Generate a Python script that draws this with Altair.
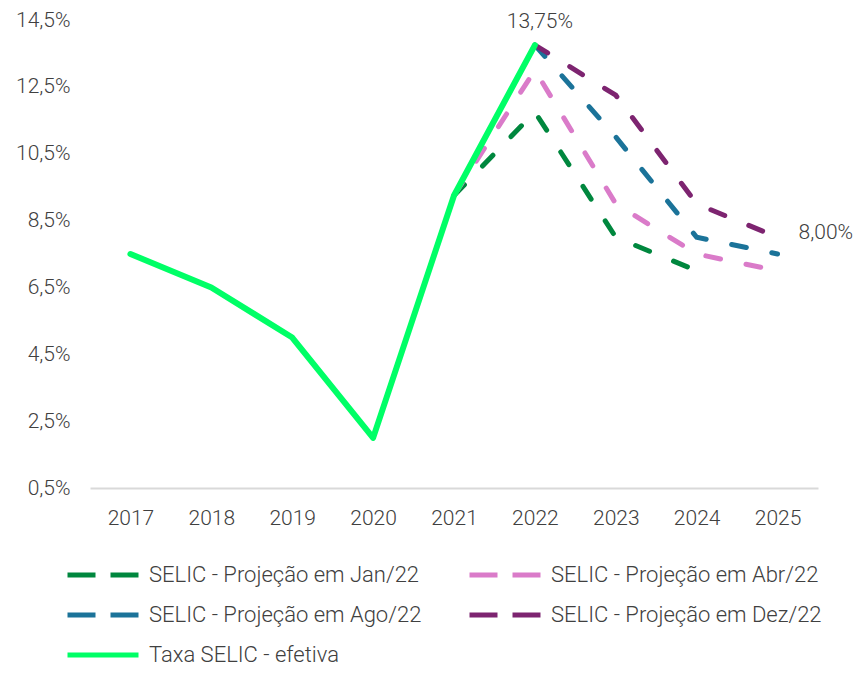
import altair as alt
import pandas as pd

years = ["2017", "2018", "2019", "2020", "2021", "2022", "2023", "2024", "2025"]

S_JAN = "SELIC - Projeção em Jan/22"
S_ABR = "SELIC - Projeção em Abr/22"
S_AGO = "SELIC - Projeção em Ago/22"
S_DEZ = "SELIC - Projeção em Dez/22"
S_EFE = "Taxa SELIC - efetiva"
series_order = [S_JAN, S_ABR, S_AGO, S_DEZ, S_EFE]
series_colors = ["#00873E", "#DA7BC9", "#1B7399", "#7D2470", "#00FF66"]

efetiva_years = ["2017", "2018", "2019", "2020", "2021", "2022"]
efetiva = [7.5, 6.5, 5.0, 2.0, 9.25, 13.75]

jan_years = ["2021", "2022", "2023", "2024"]
jan22 = [9.25, 11.75, 8.0, 7.0]

abr_years = ["2021", "2022", "2023", "2024", "2025"]
abr22 = [9.25, 13.0, 9.0, 7.5, 7.0]

ago_years = ["2022", "2023", "2024", "2025"]
ago22 = [13.75, 11.0, 8.0, 7.5]

dez_years = ["2022", "2023", "2024", "2025"]
dez22 = [13.75, 12.25, 9.0, 8.0]

y_ticks = [0.5, 2.5, 4.5, 6.5, 8.5, 10.5, 12.5, 14.5]

rows = []
for name, ys, vs in [
    (S_JAN, jan_years, jan22),
    (S_ABR, abr_years, abr22),
    (S_AGO, ago_years, ago22),
    (S_DEZ, dez_years, dez22),
    (S_EFE, efetiva_years, efetiva),
]:
    for yr, v in zip(ys, vs):
        rows.append({"serie": name, "ano": yr, "valor": v})
df = pd.DataFrame(rows)

FONT = "Roboto"
TXT = "#404040"

x_enc = alt.X(
    "ano:O",
    scale=alt.Scale(domain=years, type="point", padding=0.5),
    axis=alt.Axis(
        title=None, ticks=False, tickSize=0, domainColor="#D9D9D9", domainWidth=2,
        labelAngle=0, labelFontSize=21, labelColor=TXT, labelFont=FONT,
        labelFontWeight=300, labelPadding=30, labelBaseline="middle", grid=False,
    ),
)
y_enc = alt.Y(
    "valor:Q",
    scale=alt.Scale(domain=[0.5, 14.5], nice=False, zero=False),
    axis=alt.Axis(
        title=None, values=y_ticks, ticks=False, domain=False, grid=False,
        labelExpr="replace(format(datum.value, '.1f'), '.', ',') + '%'",
        labelFontSize=21, labelColor=TXT, labelFont=FONT, labelFontWeight=300,
        labelPadding=20,
    ),
)
color_scale = alt.Scale(domain=series_order, range=series_colors)
dash_scale = alt.Scale(domain=series_order,
                       range=[[28, 15], [28, 15], [28, 15], [28, 15], [1, 0]])

leg = alt.Legend(
    title=None, orient="none", legendX=-25, legendY=542, columns=2,
    direction="horizontal", clipHeight=26,
    symbolType="stroke", symbolSize=5041, symbolStrokeWidth=5,
    labelFontSize=22, labelFont=FONT, labelFontWeight=300, labelColor=TXT,
    labelLimit=400, labelOffset=8, columnPadding=45, rowPadding=14,
)

base = alt.Chart(df)

# one point per series: draws nothing, only carries the legend
legend_layer = base.transform_filter(alt.datum.ano == "2022").mark_line(
    strokeWidth=5
).encode(
    x=x_enc, y=y_enc,
    color=alt.Color("serie:N", scale=color_scale, legend=leg),
    strokeDash=alt.StrokeDash("serie:N", scale=dash_scale, legend=leg),
)

proj = base.transform_filter(alt.datum.serie != S_EFE).mark_line(
    strokeWidth=5, strokeDash=[15, 26], strokeCap="round"
).encode(
    x=x_enc, y=y_enc,
    color=alt.Color("serie:N", scale=color_scale, legend=None),
)

efe = base.transform_filter(alt.datum.serie == S_EFE).mark_line(
    strokeWidth=6, strokeCap="round", strokeJoin="round"
).encode(
    x=x_enc, y=y_enc,
    color=alt.Color("serie:N", scale=color_scale, legend=None),
)

lab_top = base.transform_filter(
    (alt.datum.serie == S_EFE) & (alt.datum.ano == "2022")
).transform_calculate(
    txt="replace(format(datum.valor, '.2f'), '.', ',') + '%'"
).mark_text(
    fontSize=21, font=FONT, fontWeight=300, color=TXT, dx=5, dy=-23, baseline="middle"
).encode(x=x_enc, y=y_enc, text="txt:N")

lab_end = base.transform_filter(
    (alt.datum.serie == S_DEZ) & (alt.datum.ano == "2025")
).transform_calculate(
    txt="replace(format(datum.valor, '.2f'), '.', ',') + '%'"
).mark_text(
    fontSize=21, font=FONT, fontWeight=300, color=TXT, dx=21, dy=-4,
    align="left", baseline="middle"
).encode(x=x_enc, y=y_enc, text="txt:N")

chart = alt.layer(legend_layer, proj, efe, lab_top, lab_end).properties(
    width=728, height=468,
    autosize=alt.AutoSizeParams(type="none"),
    padding={"left": 82, "top": 12, "right": 36, "bottom": 182},
    background="white",
).configure_view(stroke=None)

chart.save("out.html", embed_options={"renderer": "svg", "actions": False})
